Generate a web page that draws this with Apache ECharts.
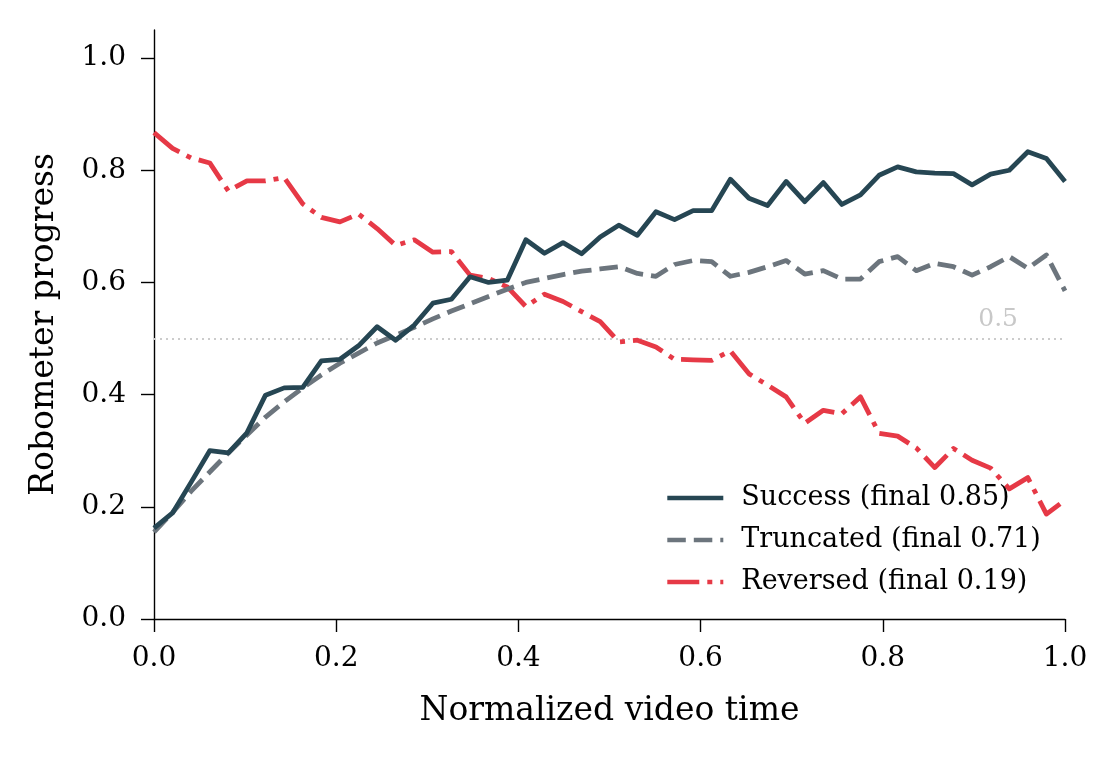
<!DOCTYPE html>
<html>
<head>
<meta charset="utf-8">
<script src="https://cdn.jsdelivr.net/npm/echarts@6/dist/echarts.min.js"></script>
<style>
html,body{margin:0;padding:0;background:#fff;}
#chart{width:1117px;height:757px;}
</style>
</head>
<body>
<div id="chart"></div>
<script>
const timeValues = [0.0000,0.0204,0.0408,0.0612,0.0816,0.1020,0.1224,0.1429,0.1633,0.1837,
  0.2041,0.2245,0.2449,0.2653,0.2857,0.3061,0.3265,0.3469,0.3673,0.3878,
  0.4082,0.4286,0.4490,0.4694,0.4898,0.5102,0.5306,0.5510,0.5714,0.5918,
  0.6122,0.6327,0.6531,0.6735,0.6939,0.7143,0.7347,0.7551,0.7755,0.7959,
  0.8163,0.8367,0.8571,0.8776,0.8980,0.9184,0.9388,0.9592,0.9796,1.0000];

const successValues = [0.162,0.189,0.244,0.300,0.296,0.332,0.399,0.412,0.413,0.460,
  0.463,0.487,0.521,0.497,0.524,0.563,0.570,0.610,0.600,0.604,
  0.676,0.652,0.671,0.651,0.681,0.702,0.684,0.726,0.712,0.728,
  0.728,0.784,0.750,0.737,0.780,0.744,0.778,0.739,0.756,0.791,
  0.806,0.797,0.795,0.794,0.774,0.793,0.800,0.833,0.821,0.780];

const truncatedValues = [0.155,0.190,0.228,0.262,0.296,0.328,0.360,0.387,0.412,0.435,
  0.456,0.474,0.492,0.506,0.520,0.535,0.549,0.562,0.575,0.588,
  0.600,0.607,0.614,0.620,0.624,0.628,0.616,0.611,0.632,0.639,
  0.637,0.611,0.618,0.628,0.639,0.615,0.621,0.606,0.606,0.637,
  0.646,0.621,0.634,0.628,0.613,0.628,0.646,0.625,0.649,0.585];

const reversedValues = [0.867,0.839,0.822,0.813,0.763,0.781,0.781,0.787,0.740,0.716,
  0.708,0.722,0.696,0.666,0.676,0.654,0.655,0.613,0.607,0.592,
  0.557,0.579,0.566,0.548,0.530,0.494,0.497,0.485,0.463,0.462,
  0.461,0.478,0.437,0.417,0.396,0.349,0.372,0.366,0.396,0.331,
  0.326,0.305,0.270,0.304,0.283,0.269,0.232,0.252,0.187,0.212];

const seriesNames = ['Success (final 0.85)', 'Truncated (final 0.71)', 'Reversed (final 0.19)'];
const yTickValues = [0, 0.2, 0.4, 0.6, 0.8, 1.0];
const xTickValues = [0, 0.2, 0.4, 0.6, 0.8, 1.0];
const referenceLevel = 0.5;

const FONT = 'DejaVu Serif';
const pair = (ys) => timeValues.map((t, i) => [t, ys[i]]);

const chart = echarts.init(document.getElementById('chart'), null, {renderer: 'canvas'});
chart.setOption({
  animation: false,
  backgroundColor: '#ffffff',
  grid: {left: 154, right: 52, top: 30, bottom: 138, containLabel: false},
  xAxis: {
    type: 'value', min: 0, max: 1, interval: 0.2,
    name: 'Normalized video time', nameLocation: 'middle', nameGap: 76,
    nameTextStyle: {fontFamily: FONT, fontSize: 33, color: '#000'},
    axisLine: {show: true, lineStyle: {color: '#000', width: 1.4}},
    axisTick: {show: true, length: 13, lineStyle: {color: '#000', width: 1.4}, customValues: xTickValues},
    axisLabel: {fontFamily: FONT, fontSize: 28, color: '#000', margin: 26, customValues: xTickValues,
      formatter: v => Number(v).toFixed(1)},
    splitLine: {show: false}
  },
  yAxis: {
    type: 'value', min: 0, max: 1.05,
    name: 'Robometer progress', nameLocation: 'middle', nameGap: 93, nameRotate: 90,
    nameTextStyle: {fontFamily: FONT, fontSize: 33, color: '#000'},
    axisLine: {show: true, lineStyle: {color: '#000', width: 1.4}},
    axisTick: {show: true, length: 13, lineStyle: {color: '#000', width: 1.4}, customValues: yTickValues},
    axisLabel: {fontFamily: FONT, fontSize: 28, color: '#000', margin: 28, customValues: yTickValues,
      formatter: v => Number(v).toFixed(1)},
    splitLine: {show: false}
  },
  legend: {
    orient: 'vertical', left: 665, top: 484, padding: 0, itemGap: 14,
    itemWidth: 56, itemHeight: 4,
    itemStyle: {opacity: 0},
    lineStyle: {width: 4.6},
    textStyle: {fontFamily: FONT, fontSize: 27, color: '#000', lineHeight: 28, padding: [0, 0, 0, 13]},
    data: seriesNames
  },
  series: [
    {
      name: seriesNames[0], type: 'line', data: pair(successValues), symbol: 'none', showSymbol: false,
      lineStyle: {color: '#264653', width: 4.8, join: 'round', cap: 'butt'},
      itemStyle: {color: '#264653'}, z: 5,
      markLine: {
        silent: true, symbol: 'none', z: 1,
        lineStyle: {color: '#cccccc', width: 1.8, type: [2, 4]},
        label: {show: true, position: 'insideEndTop', formatter: '0.5', distance: [47, 7],
          fontFamily: FONT, fontSize: 25, color: '#c8c8c8'},
        data: [{yAxis: referenceLevel}]
      }
    },
    {
      name: seriesNames[1], type: 'line', data: pair(truncatedValues), symbol: 'none', showSymbol: false,
      lineStyle: {color: '#6c757d', width: 4.8, type: [18.5, 8], join: 'round', cap: 'butt'},
      itemStyle: {color: '#6c757d'}, z: 4
    },
    {
      name: seriesNames[2], type: 'line', data: pair(reversedValues), symbol: 'none', showSymbol: false,
      lineStyle: {color: '#e63946', width: 4.8, type: [32, 8, 5, 8], join: 'round', cap: 'butt'},
      itemStyle: {color: '#e63946'}, z: 3
    }
  ]
});
</script>
</body>
</html>
